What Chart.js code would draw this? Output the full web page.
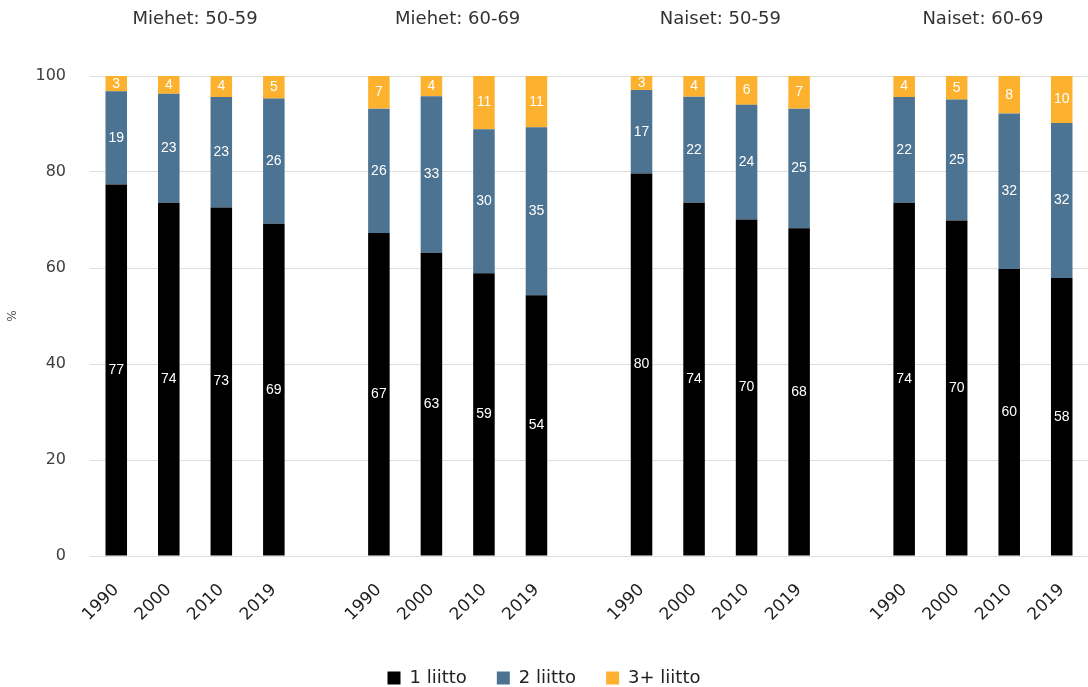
<!DOCTYPE html>
<html>
<head>
<meta charset="utf-8">
<script src="https://cdn.jsdelivr.net/npm/chart.js@4.4.1/dist/chart.umd.min.js"></script>
<style>
  html, body { margin: 0; padding: 0; background: #ffffff; }
  #wrap { width: 1088px; height: 687px; position: relative; }
</style>
</head>
<body>
<div id="wrap"><canvas id="c"></canvas></div>
<script>
// ---- data ----
const groups = ['Miehet: 50-59', 'Miehet: 60-69', 'Naiset: 50-59', 'Naiset: 60-69'];
const years = ['1990', '2000', '2010', '2019'];
const seriesNames = ['1 liitto', '2 liitto', '3+ liitto'];
const liitto1 = [77.4, 73.6, 72.6, 69.2,  67.3, 63.2, 58.9, 54.3,  79.7, 73.6, 70.1, 68.3,  73.6, 69.9, 59.8, 57.9];
const liitto2 = [19.4, 22.7, 23.0, 26.1,  25.9, 32.6, 30.0, 35.0,  17.4, 22.1, 23.9, 24.9,  22.0, 25.2, 32.4, 32.3];
const liitto3 = [ 3.2,  3.7,  4.4,  4.7,   6.8,  4.2, 11.1, 10.7,   2.9,  4.3,  6.0,  6.8,   4.4,  4.9,  7.8,  9.8];
const yTicks = [0, 20, 40, 60, 80, 100];
const yTitle = '%';

// build category axis with an empty slot between groups
const labels = [];
const groupCenters = [];
function withGaps(arr) {
  const out = [];
  groups.forEach((g, gi) => {
    if (gi > 0) out.push(null);
    years.forEach((y, yi) => out.push(arr[gi * years.length + yi]));
  });
  return out;
}
groups.forEach((g, gi) => {
  if (gi > 0) labels.push('');
  const start = labels.length;
  years.forEach(y => labels.push(y));
  groupCenters.push(start + (years.length - 1) / 2);
});

const colors = ['#000000', '#4d7392', '#fdb22f'];
const FONT = '"DejaVu Sans", sans-serif';

const valueLabels = {
  id: 'valueLabels',
  afterDatasetsDraw(chart) {
    const ctx = chart.ctx;
    ctx.save();
    ctx.fillStyle = '#ffffff';
    ctx.font = '14px "Liberation Sans", Arial, sans-serif';
    ctx.textAlign = 'center';
    ctx.textBaseline = 'middle';
    chart.data.datasets.forEach((ds, di) => {
      const meta = chart.getDatasetMeta(di);
      meta.data.forEach((el, i) => {
        const v = ds.data[i];
        if (v === null || v === undefined) return;
        const yc = (el.y + el.base) / 2;
        ctx.fillText(String(Math.round(v)), el.x, yc);
      });
    });
    ctx.restore();
  }
};

const groupTitles = {
  id: 'groupTitles',
  afterDraw(chart) {
    const ctx = chart.ctx;
    const xs = chart.scales.x;
    ctx.save();
    ctx.fillStyle = '#333333';
    ctx.font = '18px ' + FONT;
    ctx.textAlign = 'center';
    ctx.textBaseline = 'middle';
    groups.forEach((g, gi) => {
      const c = groupCenters[gi];
      const x = (xs.getPixelForValue(Math.floor(c)) + xs.getPixelForValue(Math.ceil(c))) / 2;
      ctx.fillText(g, x, 19);
    });
    ctx.restore();
  }
};

new Chart(document.getElementById('c'), {
  type: 'bar',
  data: {
    labels: labels,
    datasets: [
      { label: seriesNames[0], data: withGaps(liitto1), backgroundColor: colors[0] },
      { label: seriesNames[1], data: withGaps(liitto2), backgroundColor: colors[1] },
      { label: seriesNames[2], data: withGaps(liitto3), backgroundColor: colors[2] }
    ]
  },
  options: {
    responsive: true,
    maintainAspectRatio: false,
    animation: false,
    layout: { padding: { top: 76, right: 0, left: 0, bottom: -10 } },
    datasets: { bar: { categoryPercentage: 1.0, barPercentage: 0.41 } },
    plugins: {
      legend: {
        position: 'bottom',
        labels: {
          boxWidth: 13, boxHeight: 13, padding: 30,
          color: '#222222',
          font: { family: FONT, size: 18 }
        }
      },
      tooltip: { enabled: false }
    },
    scales: {
      x: {
        stacked: true,
        grid: { display: false, drawTicks: false },
        border: { display: false },
        ticks: {
          color: '#222222',
          font: { family: FONT, size: 17 },
          minRotation: 45, maxRotation: 45,
          padding: 24,
          autoSkip: false
        },
        afterFit(s) { s.height = 83; s.paddingRight = 0; s.paddingLeft = 0; }
      },
      y: {
        stacked: true,
        min: 0, max: 100,
        afterBuildTicks(s) { s.ticks = yTicks.map(v => ({ value: v })); },
        grid: { color: '#dedede', lineWidth: 1, drawTicks: false },
        border: { display: false },
        ticks: {
          color: '#404040',
          font: { family: FONT, size: 16 },
          padding: 24
        },
        title: {
          display: true, text: yTitle, color: '#555555',
          font: { family: FONT, size: 12 }, padding: { top: 6, bottom: 0 }
        },
        afterFit(s) { s.width = 90; s.paddingTop = 0; s.paddingBottom = 0; }
      }
    }
  },
  plugins: [valueLabels, groupTitles]
});
</script>
</body>
</html>
